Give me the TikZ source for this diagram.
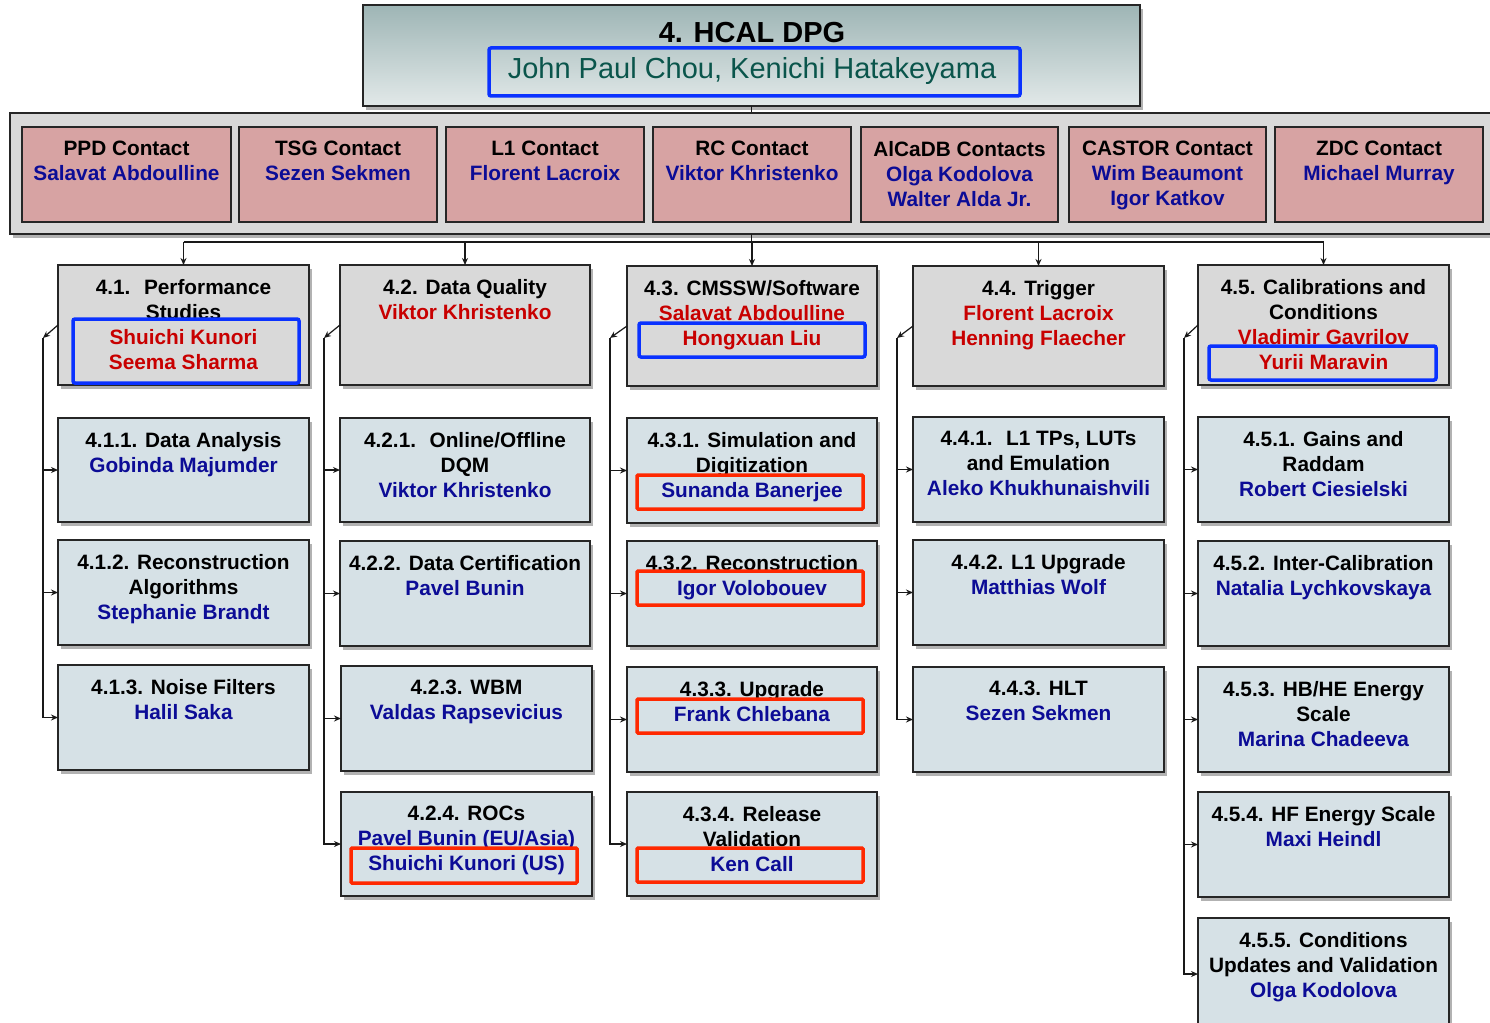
\documentclass[tikz,border=0pt]{standalone}
\usepackage{fontspec}
\setmainfont{Liberation Sans}
\usetikzlibrary{shadows,arrows.meta}
\definecolor{nameblue}{RGB}{12,12,150}
\definecolor{namered}{RGB}{200,0,0}
\definecolor{tealname}{RGB}{10,85,75}
\definecolor{hlblue}{RGB}{10,50,255}
\definecolor{hlred}{RGB}{255,40,0}
\definecolor{headfill}{RGB}{217,217,217}
\definecolor{subfill}{RGB}{214,225,230}
\definecolor{pinkfill}{RGB}{215,163,163}
\definecolor{contfill}{RGB}{217,217,217}
\definecolor{topA}{RGB}{158,181,181}
\definecolor{topB}{RGB}{226,233,233}
\newcommand\nmb[1]{\textcolor{nameblue}{#1}}
\newcommand\nmr[1]{\textcolor{namered}{#1}}
\newcommand\orgbox[7]{%
  \node[#6, minimum width={#4-#2}, minimum height={#5-#3}] (#1) at ({(#2+#4)/2},{(#3+#5)/2}) {};
  \node[txt, anchor=north] (#1t) at ({(#2+#4)/2},{#3+14}) {#7};
}
\newcommand\hlbox[6]{%
  \node[#6, minimum width={#4-#2}, minimum height={#5-#3}] (#1) at ({(#2+#4)/2},{(#3+#5)/2}) {};
}
\begin{document}
\begin{tikzpicture}[x=1pt,y=-1pt,
  shd/.style={drop shadow={shadow xshift=3pt,shadow yshift=-4pt,opacity=0.3,fill=black}},
  box/.style={draw=black!85, line width=1.3pt, inner sep=0pt, outer sep=0pt},
  headbox/.style={box, shd, fill=headfill},
  subbox/.style={box, shd, fill=subfill},
  contact/.style={box, fill=pinkfill},
  txt/.style={font=\fontsize{20.8}{25}\selectfont\bfseries, align=center, inner sep=0pt},
  hlb/.style={draw=hlblue, line width=3.5pt, rounded corners=2pt, inner sep=0pt},
  hlr/.style={draw=hlred, line width=3.5pt, rounded corners=1pt, inner sep=0pt},
  ln/.style={line width=1.2pt, draw=black!90},
  arr/.style={ln, -{Stealth[length=7pt,width=6pt]}}]
\useasboundingbox[fill=white] (0,0) rectangle (1490,1022);

% top box
\node[box, shd, top color=topA, bottom color=topB, minimum width=777, minimum height=101] (top) at (751.5,55.5) {};
\node[font=\fontsize{29}{29}\selectfont\bfseries, inner sep=0pt] (toptitle) at (752,33) {4. HCAL DPG};
\node[font=\fontsize{29}{29}\selectfont, text=tealname, inner sep=0pt, anchor=base] (topname) at (752,79) {John Paul Chou, Kenichi Hatakeyama};
\hlbox{hl0}{489}{48}{1020}{96}{hlb}

% trunk and bus
\coordinate (busy) at (0,242);
\coordinate (trunk) at (top.south |- busy);
\draw[ln] (top.south) -- (trunk);

% contacts container
\node[box, shd, fill=contfill, minimum width=1500, minimum height=121] (cont) at (760,173.5) {};
\orgbox{ppd}{22}{127}{231}{222}{contact}{PPD Contact\\\nmb{Salavat Abdoulline}}
\orgbox{tsg}{239}{127}{437}{222}{contact}{TSG Contact\\\nmb{Sezen Sekmen}}
\orgbox{lone}{446}{127}{644}{222}{contact}{L1 Contact\\\nmb{Florent Lacroix}}
\orgbox{rc}{653}{127}{851}{222}{contact}{RC Contact\\\nmb{Viktor Khristenko}}
\orgbox{alca}{861}{127}{1058}{222}{contact}{AlCaDB Contacts\\\nmb{Olga Kodolova}\\\nmb{Walter Alda Jr.}}
\orgbox{castor}{1069}{127}{1266}{222}{contact}{CASTOR Contact\\\nmb{Wim Beaumont}\\\nmb{Igor Katkov}}
\orgbox{zdc}{1275}{127}{1483}{222}{contact}{ZDC Contact\\\nmb{Michael Murray}}
\draw[ln] (cont.south -| trunk) -- (trunk);

% headers
\orgbox{h1}{58}{265}{309}{385}{headbox}{4.1.~ Performance\\Studies\\\nmr{Shuichi Kunori}\\\nmr{Seema Sharma}}
\orgbox{h2}{340}{265}{590}{385}{headbox}{4.2. Data Quality\\\nmr{Viktor Khristenko}}
\orgbox{h3}{627}{266}{877}{386}{headbox}{4.3. CMSSW/Software\\\nmr{Salavat Abdoulline}\\\nmr{Hongxuan Liu}}
\orgbox{h4}{913}{266}{1164}{386}{headbox}{4.4. Trigger\\\nmr{Florent Lacroix}\\\nmr{Henning Flaecher}}
\orgbox{h5}{1198}{265}{1449}{385}{headbox}{4.5. Calibrations and\\Conditions\\\nmr{Vladimir Gavrilov}\\\nmr{Yurii Maravin}}

% column 1
\orgbox{n411}{58}{418}{309}{522}{subbox}{4.1.1. Data Analysis\\\nmb{Gobinda Majumder}}
\orgbox{n412}{58}{540}{309}{645}{subbox}{4.1.2. Reconstruction\\Algorithms\\\nmb{Stephanie Brandt}}
\orgbox{n413}{58}{665}{309}{770}{subbox}{4.1.3. Noise Filters\\\nmb{Halil Saka}}
% column 2
\orgbox{n421}{340}{418}{590}{522}{subbox}{4.2.1.~ Online/Offline\\DQM\\\nmb{Viktor Khristenko}}
\orgbox{n422}{340}{541}{590}{646}{subbox}{4.2.2. Data Certification\\\nmb{Pavel Bunin}}
\orgbox{n423}{341}{666}{592}{771}{subbox}{4.2.3. WBM\\\nmb{Valdas Rapsevicius}}
\orgbox{n424}{341}{792}{592}{896}{subbox}{4.2.4. ROCs\\\nmb{Pavel Bunin (EU/Asia)}\\\nmb{Shuichi Kunori (US)}}
% column 3
\orgbox{n431}{627}{418}{877}{523}{subbox}{4.3.1. Simulation and\\Digitization\\\nmb{Sunanda Banerjee}}
\orgbox{n432}{627}{541}{877}{646}{subbox}{4.3.2. Reconstruction\\\nmb{Igor Volobouev}}
\orgbox{n433}{627}{667}{877}{772}{subbox}{4.3.3. Upgrade\\\nmb{Frank Chlebana}}
\orgbox{n434}{627}{792}{877}{896}{subbox}{4.3.4. Release\\Validation\\\nmb{Ken Call}}
% column 4
\orgbox{n441}{913}{417}{1164}{522}{subbox}{4.4.1.~ L1 TPs, LUTs\\and Emulation\\\nmb{Aleko Khukhunaishvili}}
\orgbox{n442}{913}{540}{1164}{645}{subbox}{4.4.2. L1 Upgrade\\\nmb{Matthias Wolf}}
\orgbox{n443}{913}{667}{1164}{772}{subbox}{4.4.3. HLT\\\nmb{Sezen Sekmen}}
% column 5
\orgbox{n451}{1198}{417}{1449}{522}{subbox}{4.5.1. Gains and\\Raddam\\\nmb{Robert Ciesielski}}
\orgbox{n452}{1198}{541}{1449}{646}{subbox}{4.5.2. Inter-Calibration\\\nmb{Natalia Lychkovskaya}}
\orgbox{n453}{1198}{667}{1449}{772}{subbox}{4.5.3. HB/HE Energy\\Scale\\\nmb{Marina Chadeeva}}
\orgbox{n454}{1198}{792}{1449}{897}{subbox}{4.5.4. HF Energy Scale\\\nmb{Maxi Heindl}}
\orgbox{n455}{1198}{918}{1449}{1030}{subbox}{4.5.5. Conditions\\Updates and Validation\\\nmb{Olga Kodolova}}

% highlight frames
\hlbox{hl1}{73}{319}{299}{383}{hlb}
\hlbox{hl3}{639}{323}{865}{357}{hlb}
\hlbox{hl5}{1209}{346}{1436}{380}{hlb}
\hlbox{r424}{351}{848}{577}{883}{hlr}
\hlbox{r431}{637}{475}{863}{509}{hlr}
\hlbox{r432}{637}{571}{863}{605}{hlr}
\hlbox{r433}{637}{699}{863}{733}{hlr}
\hlbox{r434}{637}{848}{863}{882}{hlr}

% bus
\coordinate (b1) at (h1.north |- busy);
\coordinate (b2) at (h2.north |- busy);
\coordinate (b3) at (h3.north |- busy);
\coordinate (b4) at (h4.north |- busy);
\coordinate (b5) at (h5.north |- busy);
\draw[ln] (b1) -- (b5);
\foreach \i in {1,...,5} { \draw[arr] (b\i) -- (h\i.north); }

% side connectors
\coordinate (s1) at (43,338);
\coordinate (s2) at (324,338);
\coordinate (s3) at (610,338);
\coordinate (s4) at (897,338);
\coordinate (s5) at (1184,338);
\foreach \i in {1,...,5} { \draw[arr] (h\i.west) -- (s\i); }
\foreach \n in {411,412,413} { \draw[arr] (s1) |- (n\n.west); }
\foreach \n in {421,422,423,424} { \draw[arr] (s2) |- (n\n.west); }
\foreach \n in {431,432,433,434} { \draw[arr] (s3) |- (n\n.west); }
\foreach \n in {441,442,443} { \draw[arr] (s4) |- (n\n.west); }
\foreach \n in {451,452,453,454,455} { \draw[arr] (s5) |- (n\n.west); }
\end{tikzpicture}
\end{document}
